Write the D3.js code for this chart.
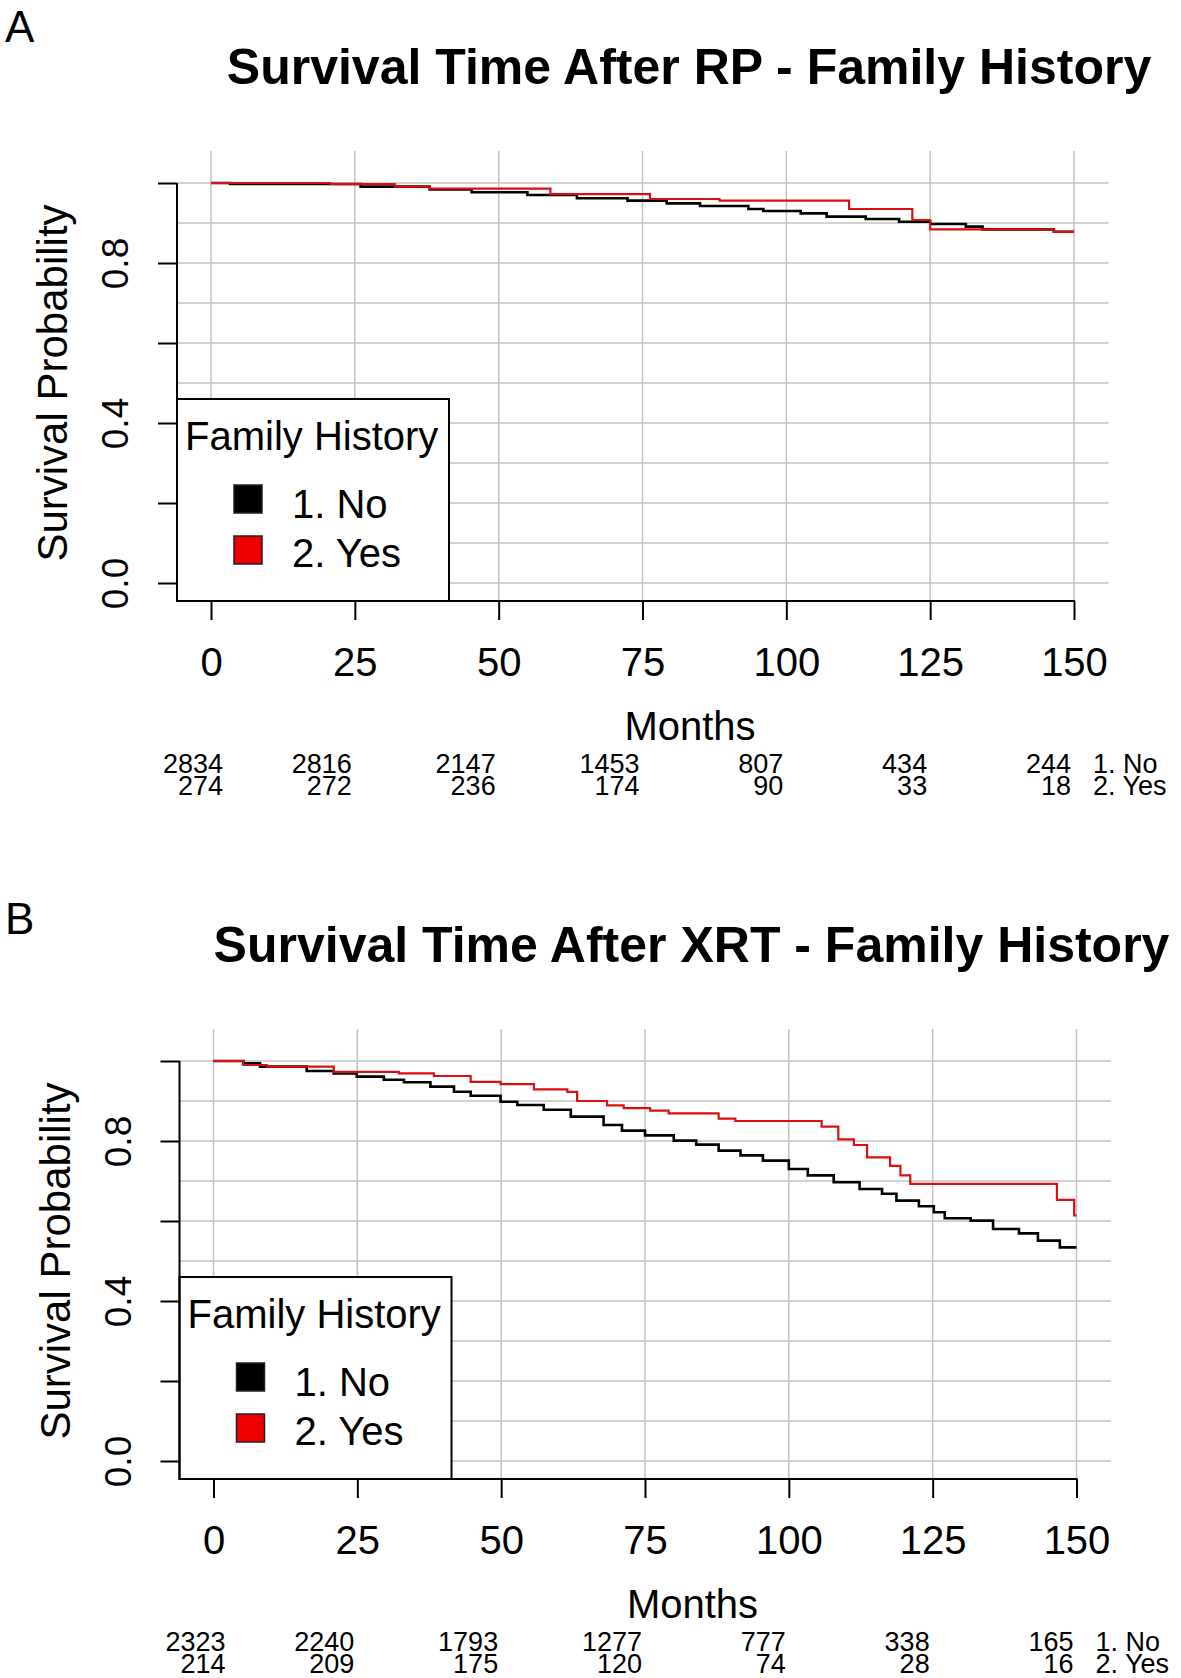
<!DOCTYPE html>
<html>
<head>
<meta charset="utf-8">
<script src="https://cdn.jsdelivr.net/npm/d3@7"></script>
<style>
  body { margin: 0; background: #fff; }
  svg { display: block; }
  text { font-family: "Liberation Sans", Arial, sans-serif; fill: #000; }
</style>
</head>
<body>
<div id="chart"></div>
<script>
// axis ticks shared by both panels
var monthTicks = [0, 25, 50, 75, 100, 125, 150];
var survTicks = [0, 0.2, 0.4, 0.6, 0.8, 1.0];
var survLabels = [0, 0.4, 0.8];
var gridSurv = [0, 0.1, 0.2, 0.3, 0.4, 0.5, 0.6, 0.7, 0.8, 0.9, 1.0];

var groupNames = ["1. No", "2. Yes"];
var groupColors = ["#000000", "#d81010"];

// panel A - after RP, steps as [months, survival]
var rpNo = [[0, 1], [3.3, 0.9975], [26, 0.991], [38, 0.984], [45.3, 0.977], [55, 0.970],
  [63.6, 0.962], [72.4, 0.956], [79.2, 0.949], [85, 0.9425], [93.4, 0.935], [96, 0.930],
  [102.5, 0.924], [107, 0.916], [113.8, 0.910], [119.6, 0.903], [125, 0.8975],
  [131.2, 0.891], [134.1, 0.884], [146.5, 0.878], [150, 0.878]];
var rpYes = [[0, 1], [20.7, 0.997], [32, 0.991], [38, 0.986], [59, 0.972], [76.3, 0.960],
  [88.4, 0.956], [110.9, 0.935], [121.9, 0.9075], [125, 0.884], [146.5, 0.878], [150, 0.878]];
var rpRiskNo = [2834, 2816, 2147, 1453, 807, 434, 244];
var rpRiskYes = [274, 272, 236, 174, 90, 33, 18];

// panel B - after XRT
var xrtNo = [[0, 1], [5.2, 0.994], [8.1, 0.986], [16.2, 0.975], [20.9, 0.969], [24.9, 0.961],
  [29.6, 0.953], [33.1, 0.947], [37.7, 0.936], [41.8, 0.923], [44.7, 0.913], [49.9, 0.898],
  [52.8, 0.890], [57.4, 0.878], [62.1, 0.861], [67.8, 0.840], [71, 0.826], [75, 0.814],
  [80, 0.801], [83.9, 0.791], [87.8, 0.776], [91.6, 0.764], [95.5, 0.751], [100, 0.730],
  [103.3, 0.714], [107.8, 0.697], [112.3, 0.680], [116.2, 0.668], [118.7, 0.651],
  [122.6, 0.637], [125.2, 0.622], [127.1, 0.607], [131.6, 0.601], [135.5, 0.580],
  [140, 0.569], [143.3, 0.551], [147.1, 0.534], [150, 0.534]];
var xrtYes = [[0, 1], [5.2, 0.990], [9.3, 0.986], [20.9, 0.973], [32.2, 0.969], [38.3, 0.9625],
  [44.7, 0.948], [49.9, 0.942], [55.7, 0.929], [61.5, 0.923], [63.2, 0.900], [68.4, 0.889],
  [71.3, 0.882], [75.9, 0.876], [79.1, 0.869], [87.8, 0.856], [90.7, 0.850], [105.7, 0.836],
  [108.6, 0.804], [111.3, 0.790], [113.6, 0.759], [117.6, 0.738], [119.4, 0.714],
  [121.1, 0.693], [146.6, 0.653], [149.6, 0.614], [150, 0.614]];
var xrtRiskNo = [2323, 2240, 1793, 1277, 777, 338, 165];
var xrtRiskYes = [214, 209, 175, 120, 74, 28, 16];

var svg = d3.select("#chart")
  .append("svg")
  .attr("width", 1181)
  .attr("height", 1678);

// scales (panel B is the same frame shifted down)
var x = d3.scaleLinear().domain([0, 150]).range([211, 1074]);
var y = d3.scaleLinear().domain([0, 1]).range([583, 183]);

var stepLine = d3.line()
  .x(function(d) { return x(d[0]); })
  .y(function(d) { return y(d[1]); })
  .curve(d3.curveStepAfter);

var axisLeft = 177;
var axisBottom = 601;

function drawPanel(g, title, noData, yesData, riskNo, riskYes) {

  // grid lines
  g.append("g").selectAll("line")
    .data(gridSurv)
    .enter()
    .append("line")
    .attr("x1", axisLeft)
    .attr("x2", x(156))
    .attr("y1", function(d) { return y(d); })
    .attr("y2", function(d) { return y(d); })
    .attr("stroke", "#c2c2c2")
    .attr("stroke-width", 1.5);

  g.append("g").selectAll("line")
    .data(monthTicks)
    .enter()
    .append("line")
    .attr("x1", function(d) { return x(d); })
    .attr("x2", function(d) { return x(d); })
    .attr("y1", y(1.08))
    .attr("y2", axisBottom)
    .attr("stroke", "#c2c2c2")
    .attr("stroke-width", 1.5);

  // survival curves, red drawn on top
  g.append("path")
    .datum(noData)
    .attr("fill", "none")
    .attr("stroke", groupColors[0])
    .attr("stroke-width", 2.6)
    .attr("d", stepLine);

  g.append("path")
    .datum(yesData)
    .attr("fill", "none")
    .attr("stroke", groupColors[1])
    .attr("stroke-width", 2.2)
    .attr("d", stepLine);

  // legend
  var legend = g.append("g");
  legend.append("rect")
    .attr("x", axisLeft)
    .attr("y", 399)
    .attr("width", 272)
    .attr("height", axisBottom - 399)
    .attr("fill", "#fff")
    .attr("stroke", "#000")
    .attr("stroke-width", 2);
  legend.append("text")
    .attr("x", 185)
    .attr("y", 450)
    .style("font-size", "40px")
    .text("Family History");
  legend.selectAll("rect.key")
    .data(groupNames)
    .enter()
    .append("rect")
    .attr("class", "key")
    .attr("x", 234)
    .attr("y", function(d, i) { return 485 + i * 51; })
    .attr("width", 28)
    .attr("height", 28)
    .attr("fill", function(d, i) { return i == 0 ? "#000" : "#ee0000"; })
    .attr("stroke", "#222")
    .attr("stroke-width", 1.5);
  legend.selectAll("text.key")
    .data(groupNames)
    .enter()
    .append("text")
    .attr("class", "key")
    .attr("x", 292)
    .attr("y", function(d, i) { return 518 + i * 49; })
    .style("font-size", "40px")
    .text(function(d) { return d; });

  // x axis
  var xAxis = g.append("g")
    .attr("transform", "translate(0," + axisBottom + ")")
    .call(d3.axisBottom(x).tickValues(monthTicks).tickSize(19));
  xAxis.select(".domain").remove();
  xAxis.selectAll("line").attr("stroke-width", 2);
  xAxis.selectAll("text")
    .attr("y", 75)
    .attr("dy", null)
    .style("font-size", "40px")
    .style("font-family", "'Liberation Sans', Arial, sans-serif");

  // y axis, labels only on every other tick
  var yAxis = g.append("g")
    .attr("transform", "translate(" + axisLeft + ",0)")
    .call(d3.axisLeft(y).tickValues(survTicks).tickSize(19)
      .tickFormat(function(d) {
        return survLabels.indexOf(d) >= 0 ? d3.format(".1f")(d) : "";
      }));
  yAxis.select(".domain").remove();
  yAxis.selectAll("line").attr("stroke-width", 2);
  yAxis.selectAll("text")
    .attr("x", null)
    .attr("dy", null)
    .attr("text-anchor", "middle")
    .attr("transform", "translate(-49,0) rotate(-90)")
    .style("font-size", "37px")
    .style("font-family", "'Liberation Sans', Arial, sans-serif");

  // axis lines
  g.append("line")
    .attr("x1", axisLeft).attr("x2", axisLeft)
    .attr("y1", y(1)).attr("y2", axisBottom + 1)
    .attr("stroke", "#000").attr("stroke-width", 2);
  g.append("line")
    .attr("x1", axisLeft).attr("x2", x(150) + 1)
    .attr("y1", axisBottom).attr("y2", axisBottom)
    .attr("stroke", "#000").attr("stroke-width", 2);

  // titles
  g.append("text")
    .attr("x", 689)
    .attr("y", 84)
    .attr("text-anchor", "middle")
    .style("font-size", "50px")
    .style("font-weight", "bold")
    .text(title);

  g.append("text")
    .attr("transform", "translate(67," + y(0.5) + ") rotate(-90)")
    .attr("text-anchor", "middle")
    .style("font-size", "42px")
    .text("Survival Probability");

  g.append("text")
    .attr("x", 690)
    .attr("y", 740)
    .attr("text-anchor", "middle")
    .style("font-size", "40px")
    .text("Months");

  // numbers at risk
  [riskNo, riskYes].forEach(function(row, r) {
    g.append("g").selectAll("text")
      .data(row)
      .enter()
      .append("text")
      .attr("x", function(d, i) { return x(monthTicks[i]) + (i == 0 ? 12 : -3); })
      .attr("y", 773 + r * 22)
      .attr("text-anchor", "end")
      .style("font-size", "27px")
      .text(function(d) { return d; });
    g.append("text")
      .attr("x", 1093)
      .attr("y", 773 + r * 22)
      .style("font-size", "27px")
      .text(groupNames[r]);
  });
}

// panel letters
svg.append("text").attr("x", 5).attr("y", 42).style("font-size", "44px").text("A");
svg.append("text").attr("x", 5).attr("y", 934).style("font-size", "44px").text("B");

drawPanel(svg.append("g"),
  "Survival Time After RP - Family History", rpNo, rpYes, rpRiskNo, rpRiskYes);
drawPanel(svg.append("g").attr("transform", "translate(2.5,878)"),
  "Survival Time After XRT - Family History", xrtNo, xrtYes, xrtRiskNo, xrtRiskYes);
</script>
</body>
</html>
